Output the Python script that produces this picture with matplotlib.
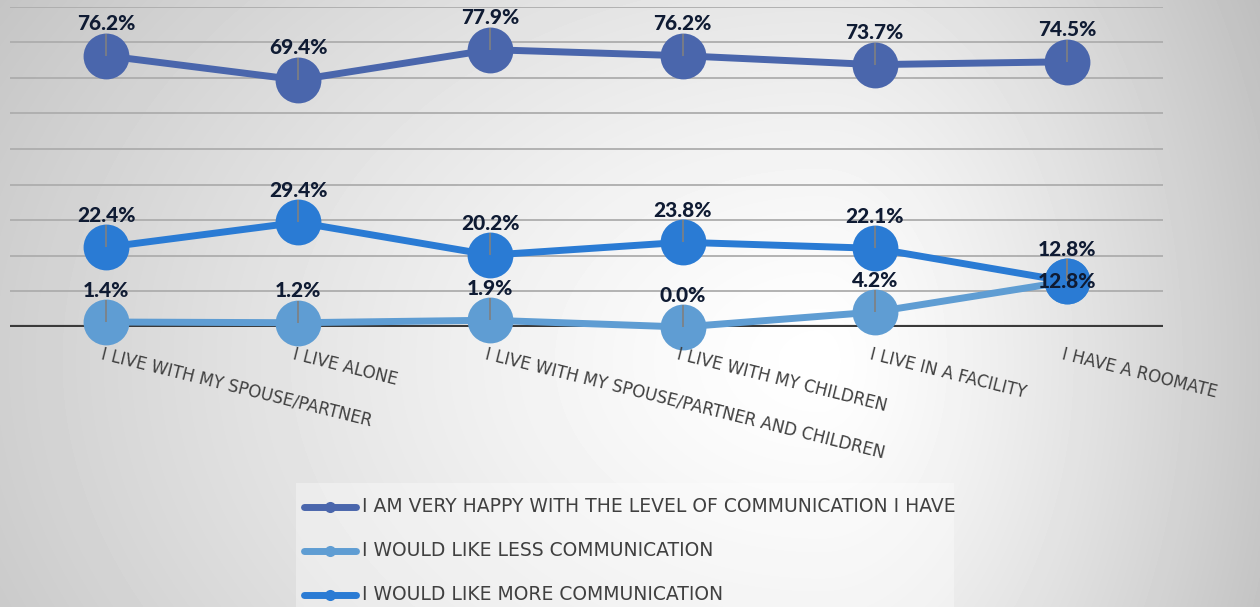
import numpy as np
import matplotlib.pyplot as plt
from matplotlib.lines import Line2D
from matplotlib.patches import Rectangle

# living situation categories and survey shares (%)
categories = ["I live with my spouse/partner", "I live alone",
              "I live with my spouse/partner and children",
              "I live with my children", "I live in a facility",
              "I have a roomate"]
happy = [76.2, 69.4, 77.9, 76.2, 73.7, 74.5]
less = [1.4, 1.2, 1.9, 0.0, 4.2, 12.8]
more = [22.4, 29.4, 20.2, 23.8, 22.1, 12.8]
series_names = ["I am very happy with the level of communication I have",
                "I would like less communication",
                "I would like more communication"]

colors = ["#4A66AC", "#5F9DD3", "#2A7BD4"]
label_color = "#0F1B33"
text_color = "#404040"

W, H = 1260, 607
fig = plt.figure(figsize=(W / 100, H / 100), dpi=100)

# soft radial backdrop, white in the middle fading to grey at the edges
xx, yy = np.meshgrid(np.arange(W), np.arange(H))
cx, cy = 820, 360
rx = np.where(xx < cx, 900.0, 430.0)
t = np.sqrt(((xx - cx) / rx) ** 2 + ((yy - cy) / 650.0) ** 2)
shade = np.clip(1 - 0.21 * t ** 1.3, 0, 1)
bg = fig.add_axes([0, 0, 1, 1], zorder=-10)
bg.imshow(shade, cmap="gray", vmin=0, vmax=1, aspect="auto", interpolation="bilinear")
bg.axis("off")

ax = fig.add_axes([10 / W, 280 / H, 1153 / W, 320.4 / H])
ax.set_facecolor("none")
ax.set_xlim(-0.5, len(categories) - 0.5)
ax.set_ylim(0, 90)
ax.set_yticks(np.arange(10, 91, 10))
ax.set_xticks([])
ax.tick_params(left=False, labelleft=False)
ax.grid(axis="y", color="#ADADAD", lw=1.3)
for s in ax.spines.values():
    s.set_visible(False)
ax.axhline(0, color="#3A3A3A", lw=3, zorder=2)

x = np.arange(len(categories))
for vals, col in zip([happy, less, more], colors):
    ax.plot(x, vals, color=col, lw=5, marker="o", markersize=33,
            markeredgewidth=0, solid_capstyle="round", zorder=3, clip_on=False)
    # small grey stems inside each marker
    ax.vlines(x, vals, np.array(vals) + 6.2, color="#808080", lw=1.2, zorder=4)

# value labels above each marker
for k, vals in enumerate([happy, less, more]):
    for i, v in enumerate(vals):
        dy = 23
        if k == 1 and i == len(vals) - 1:
            dy = 0
        ax.annotate(f"{v:.1f}%", (i, v), xytext=(0, dy), textcoords="offset points",
                    ha="center", va="center", fontsize=15, fontweight="black",
                    family="Lato", color=label_color, zorder=6, annotation_clip=False)

# slanted category labels
for i, c in enumerate(categories):
    ax.annotate(c.upper(), (i, 0), xytext=(-2, -13), textcoords="offset points",
                ha="left", va="top", rotation=-14, rotation_mode="anchor",
                fontsize=12, color=text_color, family="DejaVu Sans",
                annotation_clip=False)

# legend panel
fig.patches.append(Rectangle((296 / W, 0), 658 / W, 124 / H, transform=fig.transFigure,
                             facecolor="white", alpha=0.35, edgecolor="none", zorder=-5))
for k, (name, col) in enumerate(zip(series_names, colors)):
    yrow = 1 - (507 + 44 * k) / H
    fig.add_artist(Line2D([304 / W, 356 / W], [yrow, yrow], transform=fig.transFigure,
                          color=col, lw=5, solid_capstyle="round"))
    fig.add_artist(Line2D([330 / W], [yrow], transform=fig.transFigure, marker="o",
                          markersize=8, color=col, markeredgewidth=0))
    fig.text(362 / W, yrow, name.upper(), ha="left", va="center", fontsize=13.5,
             color=text_color, family="DejaVu Sans")

fig.savefig("out.png", dpi=100)
